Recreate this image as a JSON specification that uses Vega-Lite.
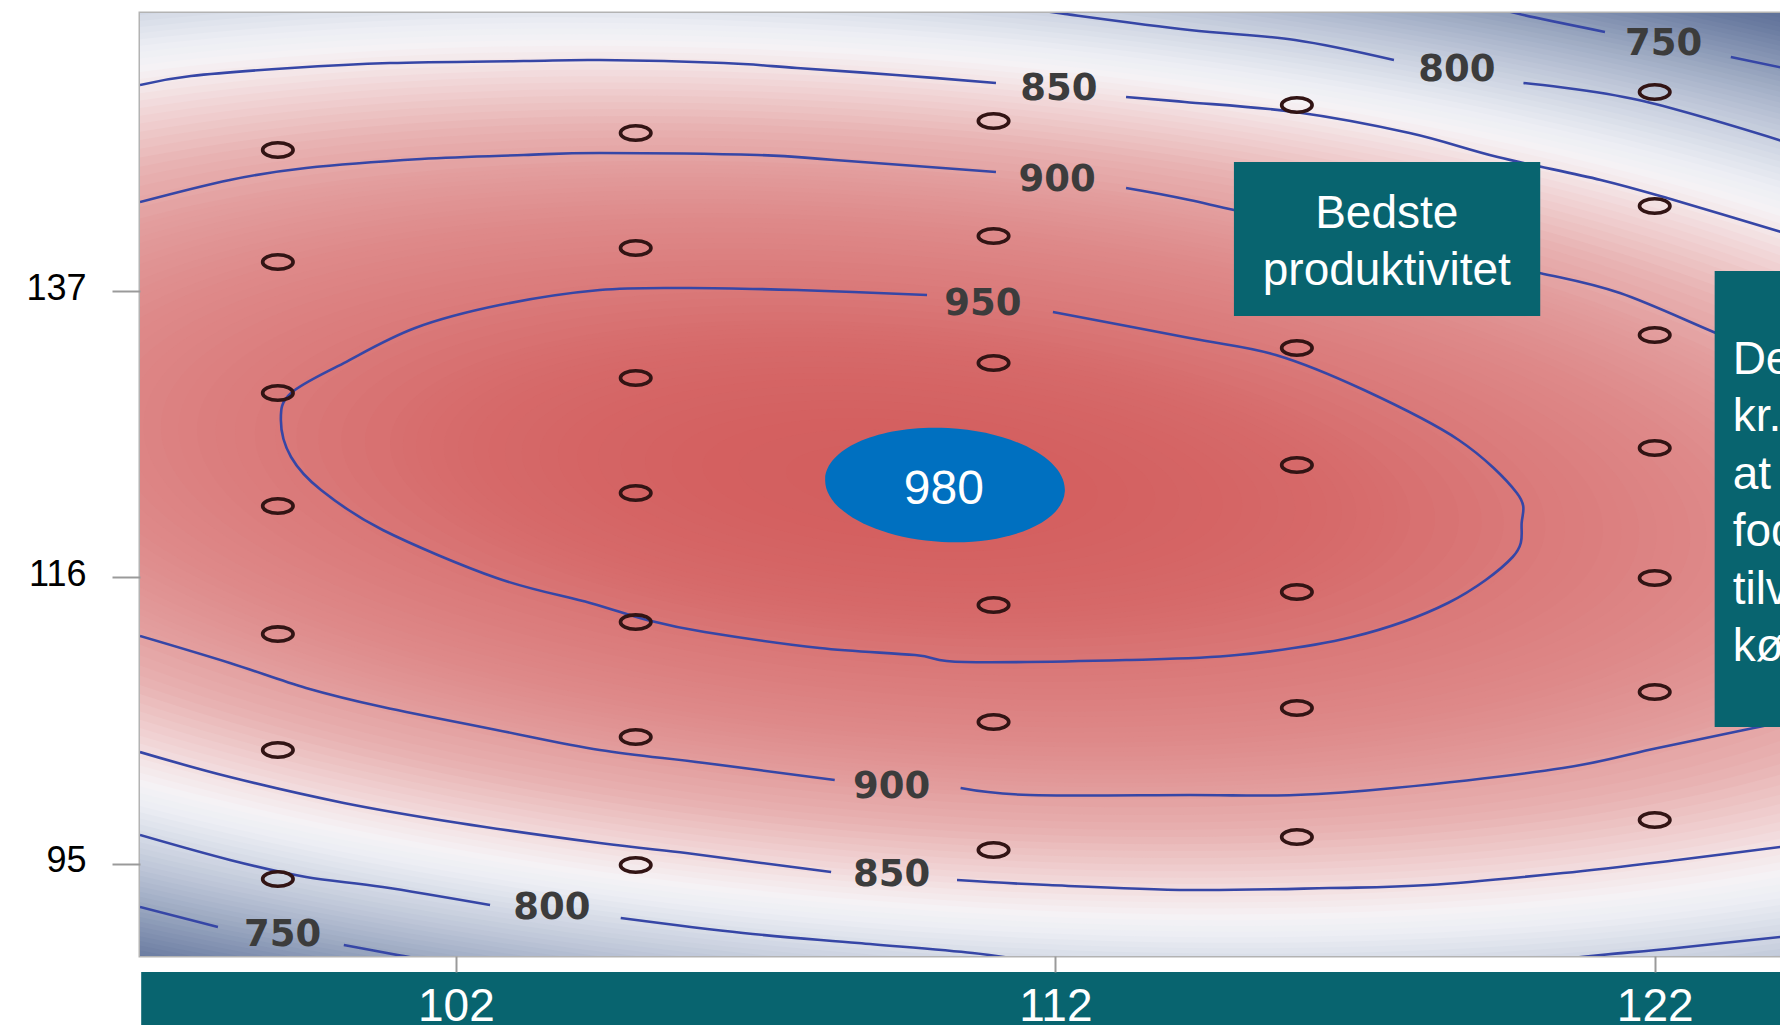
{
  "$schema": "https://vega.github.io/schema/vega-lite/v6.json",
  "width": 1640,
  "height": 943,
  "autosize": {"type": "none"},
  "padding": {"left": 140, "top": 13, "right": 0, "bottom": 69},
  "background": "#ffffff",
  "config": {"view": {"stroke": "#b3b3b3", "strokeWidth": 3}},
  "datasets": {
    "levels": [{"v":680,"x":109.41,"y":123.14},{"v":684,"x":109.41,"y":123.14},{"v":688,"x":109.41,"y":123.14},{"v":692,"x":109.41,"y":123.14},{"v":696,"x":109.41,"y":123.14},{"v":700,"x":109.41,"y":123.14},{"v":704,"x":109.41,"y":123.14},{"v":708,"x":109.41,"y":123.14},{"v":712,"x":109.41,"y":123.14},{"v":716,"x":109.41,"y":123.14},{"v":720,"x":109.41,"y":123.14},{"v":724,"x":109.41,"y":123.14},{"v":728,"x":109.41,"y":123.14},{"v":732,"x":109.41,"y":123.14},{"v":736,"x":109.41,"y":123.14},{"v":740,"x":109.41,"y":123.14},{"v":744,"x":109.41,"y":123.14},{"v":748,"x":109.41,"y":123.14},{"v":752,"x":109.41,"y":123.14},{"v":756,"x":109.41,"y":123.14},{"v":760,"x":109.41,"y":123.14},{"v":764,"x":109.41,"y":123.14},{"v":768,"x":109.41,"y":123.14},{"v":772,"x":109.41,"y":123.14},{"v":776,"x":109.41,"y":123.14},{"v":780,"x":109.41,"y":123.14},{"v":784,"x":109.41,"y":123.14},{"v":788,"x":109.41,"y":123.14},{"v":792,"x":109.41,"y":123.14},{"v":796,"x":109.41,"y":123.14},{"v":800,"x":109.41,"y":123.14},{"v":804,"x":109.41,"y":123.14},{"v":808,"x":109.41,"y":123.14},{"v":812,"x":109.41,"y":123.14},{"v":816,"x":109.41,"y":123.14},{"v":820,"x":109.41,"y":123.14},{"v":824,"x":109.41,"y":123.14},{"v":828,"x":109.41,"y":123.14},{"v":832,"x":109.41,"y":123.14},{"v":836,"x":109.41,"y":123.14},{"v":840,"x":109.41,"y":123.14},{"v":844,"x":109.41,"y":123.14},{"v":848,"x":109.41,"y":123.14},{"v":852,"x":109.41,"y":123.14},{"v":856,"x":109.41,"y":123.14},{"v":860,"x":109.41,"y":123.14},{"v":864,"x":109.41,"y":123.14},{"v":868,"x":109.41,"y":123.14},{"v":872,"x":109.41,"y":123.14},{"v":876,"x":109.41,"y":123.14},{"v":880,"x":109.41,"y":123.14},{"v":884,"x":109.41,"y":123.14},{"v":888,"x":109.41,"y":123.14},{"v":892,"x":109.41,"y":123.14},{"v":896,"x":109.41,"y":123.14},{"v":900,"x":109.41,"y":123.14},{"v":902,"x":109.41,"y":123.14},{"v":904,"x":109.41,"y":123.14},{"v":906,"x":109.41,"y":123.14},{"v":908,"x":109.41,"y":123.14},{"v":910,"x":109.41,"y":123.14},{"v":912,"x":109.41,"y":123.14},{"v":914,"x":109.41,"y":123.14},{"v":916,"x":109.41,"y":123.14},{"v":918,"x":109.41,"y":123.14},{"v":920,"x":109.41,"y":123.14},{"v":922,"x":109.41,"y":123.14},{"v":924,"x":109.41,"y":123.14},{"v":926,"x":109.41,"y":123.14},{"v":928,"x":109.41,"y":123.14},{"v":930,"x":109.41,"y":123.14},{"v":932,"x":109.41,"y":123.14},{"v":934,"x":109.41,"y":123.14},{"v":936,"x":109.41,"y":123.14},{"v":938,"x":109.41,"y":123.14},{"v":940,"x":109.41,"y":123.14},{"v":942,"x":109.41,"y":123.14},{"v":944,"x":109.41,"y":123.14},{"v":946,"x":109.41,"y":123.14},{"v":948,"x":109.41,"y":123.14},{"v":950,"x":109.41,"y":123.14},{"v":952,"x":109.41,"y":123.14},{"v":954,"x":109.41,"y":123.14},{"v":956,"x":109.41,"y":123.14},{"v":958,"x":109.41,"y":123.14},{"v":960,"x":109.41,"y":123.14},{"v":961,"x":109.41,"y":123.14},{"v":962,"x":109.41,"y":123.14},{"v":963,"x":109.41,"y":123.14},{"v":964,"x":109.41,"y":123.14},{"v":965,"x":109.41,"y":123.14},{"v":966,"x":109.41,"y":123.14},{"v":967,"x":109.41,"y":123.14},{"v":968,"x":109.41,"y":123.14},{"v":969,"x":109.41,"y":123.14},{"v":970,"x":109.41,"y":123.14},{"v":971,"x":109.41,"y":123.14},{"v":972,"x":109.41,"y":123.14},{"v":973,"x":109.41,"y":123.14},{"v":974,"x":109.41,"y":123.14},{"v":975,"x":109.41,"y":123.14},{"v":976,"x":109.41,"y":123.14},{"v":977,"x":109.41,"y":123.14},{"v":978,"x":109.41,"y":123.14},{"v":979,"x":109.41,"y":123.14}],
    "contours": [
      {"id":"t850a","o":1,"x":96.73,"y":152.10},{"id":"t850a","o":2,"x":97.58,"y":152.76},{"id":"t850a","o":3,"x":99.25,"y":153.35},{"id":"t850a","o":4,"x":100.90,"y":153.71},{"id":"t850a","o":5,"x":103.13,"y":153.86},{"id":"t850a","o":6,"x":104.40,"y":153.93},{"id":"t850a","o":7,"x":106.47,"y":153.71},{"id":"t850a","o":8,"x":107.69,"y":153.35},{"id":"t850a","o":9,"x":109.34,"y":152.84},{"id":"t850a","o":10,"x":111.01,"y":152.25},
      {"id":"t850b","o":1,"x":113.18,"y":151.22},{"id":"t850b","o":2,"x":114.16,"y":150.86},{"id":"t850b","o":3,"x":116.00,"y":150.12},{"id":"t850b","o":4,"x":117.91,"y":148.58},{"id":"t850b","o":5,"x":119.38,"y":146.82},{"id":"t850b","o":6,"x":121.10,"y":145.14},{"id":"t850b","o":7,"x":122.32,"y":143.67},{"id":"t850b","o":8,"x":124.20,"y":141.20},
      {"id":"t800a","o":1,"x":111.74,"y":157.60},{"id":"t800a","o":2,"x":112.16,"y":157.31},{"id":"t800a","o":3,"x":114.24,"y":156.13},{"id":"t800a","o":4,"x":116.00,"y":155.40},{"id":"t800a","o":5,"x":117.65,"y":153.93},
      {"id":"t800b","o":1,"x":119.81,"y":152.25},{"id":"t800b","o":2,"x":121.73,"y":151.00},{"id":"t800b","o":3,"x":124.20,"y":147.90},
      {"id":"t750a","o":1,"x":119.41,"y":157.75},{"id":"t750a","o":2,"x":119.81,"y":157.23},{"id":"t750a","o":3,"x":121.17,"y":155.99},
      {"id":"t750b","o":1,"x":123.27,"y":154.15},{"id":"t750b","o":2,"x":124.20,"y":153.30},
      {"id":"t900a","o":1,"x":96.73,"y":143.52},{"id":"t900a","o":2,"x":98.23,"y":145.14},{"id":"t900a","o":3,"x":99.50,"y":146.02},{"id":"t900a","o":4,"x":101.42,"y":146.68},{"id":"t900a","o":5,"x":103.13,"y":146.97},{"id":"t900a","o":6,"x":104.40,"y":147.12},{"id":"t900a","o":7,"x":107.04,"y":146.97},{"id":"t900a","o":8,"x":108.32,"y":146.60},{"id":"t900a","o":9,"x":111.01,"y":145.72},
      {"id":"t900b","o":1,"x":113.18,"y":144.55},{"id":"t900b","o":2,"x":114.24,"y":143.67},{"id":"t900b","o":3,"x":116.08,"y":141.84},{"id":"t900b","o":4,"x":117.75,"y":140.37},{"id":"t900b","o":5,"x":120.08,"y":138.32},{"id":"t900b","o":6,"x":121.42,"y":136.85},{"id":"t900b","o":7,"x":123.02,"y":133.92},{"id":"t900b","o":8,"x":124.20,"y":131.80},
      {"id":"c950","o":1,"x":111.96,"y":135.46},{"id":"c950","o":2,"x":114.24,"y":133.55},{"id":"c950","o":3,"x":115.68,"y":132.31},{"id":"c950","o":4,"x":117.15,"y":129.74},{"id":"c950","o":5,"x":118.73,"y":126.08},{"id":"c950","o":6,"x":119.70,"y":122.19},{"id":"c950","o":7,"x":119.78,"y":119.99},{"id":"c950","o":8,"x":119.63,"y":117.50},{"id":"c950","o":9,"x":118.55,"y":114.13},{"id":"c950","o":10,"x":116.95,"y":111.63},{"id":"c950","o":11,"x":115.03,"y":110.31},{"id":"c950","o":12,"x":113.18,"y":109.95},{"id":"c950","o":13,"x":110.49,"y":109.80},{"id":"c950","o":14,"x":109.66,"y":110.31},{"id":"c950","o":15,"x":108.07,"y":110.83},{"id":"c950","o":16,"x":106.15,"y":112.00},{"id":"c950","o":17,"x":105.19,"y":112.88},{"id":"c950","o":18,"x":104.24,"y":114.13},{"id":"c950","o":19,"x":102.68,"y":115.96},{"id":"c950","o":20,"x":100.78,"y":119.48},{"id":"c950","o":21,"x":99.75,"y":122.41},{"id":"c950","o":22,"x":99.25,"y":124.83},{"id":"c950","o":23,"x":99.08,"y":127.54},{"id":"c950","o":24,"x":99.25,"y":129.52},{"id":"c950","o":25,"x":100.13,"y":131.72},{"id":"c950","o":26,"x":101.32,"y":134.29},{"id":"c950","o":27,"x":102.73,"y":135.97},{"id":"c950","o":28,"x":104.40,"y":137.07},{"id":"c950","o":29,"x":105.90,"y":137.22},{"id":"c950","o":30,"x":107.69,"y":137.07},{"id":"c950","o":31,"x":109.86,"y":136.71},
      {"id":"b900a","o":1,"x":96.73,"y":111.71},{"id":"b900a","o":2,"x":98.23,"y":109.73},{"id":"b900a","o":3,"x":99.50,"y":107.90},{"id":"b900a","o":4,"x":100.78,"y":106.50},{"id":"b900a","o":5,"x":102.68,"y":104.82},{"id":"b900a","o":6,"x":104.40,"y":103.35},{"id":"b900a","o":7,"x":106.15,"y":102.40},{"id":"b900a","o":8,"x":108.32,"y":101.15},
      {"id":"b900b","o":1,"x":110.42,"y":100.56},{"id":"b900b","o":2,"x":111.57,"y":100.05},{"id":"b900b","o":3,"x":114.24,"y":100.05},{"id":"b900b","o":4,"x":116.00,"y":100.05},{"id":"b900b","o":5,"x":117.65,"y":100.56},{"id":"b900b","o":6,"x":120.47,"y":102.03},{"id":"b900b","o":7,"x":122.05,"y":103.50},{"id":"b900b","o":8,"x":123.65,"y":104.96},{"id":"b900b","o":9,"x":124.20,"y":105.50},
      {"id":"b850a","o":1,"x":96.73,"y":103.20},{"id":"b850a","o":2,"x":98.23,"y":101.37},{"id":"b850a","o":3,"x":100.13,"y":99.47},{"id":"b850a","o":4,"x":102.05,"y":98.00},{"id":"b850a","o":5,"x":104.40,"y":96.53},{"id":"b850a","o":6,"x":105.84,"y":95.80},{"id":"b850a","o":7,"x":107.10,"y":95.07},{"id":"b850a","o":8,"x":108.26,"y":94.41},
      {"id":"b850b","o":1,"x":110.36,"y":93.82},{"id":"b850b","o":2,"x":111.89,"y":93.45},{"id":"b850b","o":3,"x":114.24,"y":93.09},{"id":"b850b","o":4,"x":116.56,"y":93.23},{"id":"b850b","o":5,"x":118.23,"y":93.45},{"id":"b850b","o":6,"x":120.47,"y":94.33},{"id":"b850b","o":7,"x":122.38,"y":95.29},{"id":"b850b","o":8,"x":124.20,"y":96.30},
      {"id":"b800a","o":1,"x":96.73,"y":97.12},{"id":"b800a","o":2,"x":98.23,"y":95.29},{"id":"b800a","o":3,"x":99.50,"y":94.04},{"id":"b800a","o":4,"x":100.78,"y":93.31},{"id":"b800a","o":5,"x":102.57,"y":91.99},
      {"id":"b800b","o":1,"x":104.75,"y":91.04},{"id":"b800b","o":2,"x":106.79,"y":89.94},{"id":"b800b","o":3,"x":108.71,"y":89.20},{"id":"b800b","o":4,"x":110.62,"y":88.47},{"id":"b800b","o":5,"x":111.50,"y":87.90},
      {"id":"b800r","o":1,"x":120.20,"y":87.90},{"id":"b800r","o":2,"x":121.10,"y":88.32},{"id":"b800r","o":3,"x":122.37,"y":88.84},{"id":"b800r","o":4,"x":124.20,"y":89.70},
      {"id":"b750a","o":1,"x":96.73,"y":91.84},{"id":"b750a","o":2,"x":98.03,"y":90.38},
      {"id":"b750b","o":1,"x":100.13,"y":89.06},{"id":"b750b","o":2,"x":101.03,"y":88.32},{"id":"b750b","o":3,"x":101.60,"y":87.90}
    ],
    "clabels": [
      {"t":"850","x":112.06,"y":151.79},{"t":"900","x":112.03,"y":145.11},{"t":"950","x":110.79,"y":136.02},{"t":"800","x":118.70,"y":153.18},{"t":"750","x":122.15,"y":155.08},{"t":"900","x":109.27,"y":100.61},{"t":"850","x":109.27,"y":94.16},{"t":"800","x":103.60,"y":91.74},{"t":"750","x":99.11,"y":89.77}
    ],
    "pts": [
      {"x":99.03,"y":147.34},{"x":99.03,"y":139.13},{"x":99.03,"y":129.52},{"x":99.03,"y":121.24},{"x":99.03,"y":111.85},{"x":99.03,"y":103.35},{"x":99.03,"y":93.89},
      {"x":105.0,"y":148.58},{"x":105.0,"y":140.15},{"x":105.0,"y":130.62},{"x":105.0,"y":122.19},{"x":105.0,"y":112.73},{"x":105.0,"y":104.30},{"x":105.0,"y":94.92},
      {"x":110.97,"y":149.46},{"x":110.97,"y":141.03},{"x":110.97,"y":131.72},{"x":110.97,"y":113.98},{"x":110.97,"y":105.40},{"x":110.97,"y":96.02},
      {"x":116.03,"y":150.64},{"x":116.03,"y":132.82},{"x":116.03,"y":124.24},{"x":116.03,"y":114.93},{"x":116.03,"y":106.43},{"x":116.03,"y":96.97},
      {"x":122.0,"y":151.59},{"x":122.0,"y":143.23},{"x":122.0,"y":133.77},{"x":122.0,"y":125.49},{"x":122.0,"y":115.96},{"x":122.0,"y":107.60},{"x":122.0,"y":98.22}
    ]
  },
  "encoding": {
    "x": {"field": "x", "type": "quantitative",
      "scale": {"domain": [96.73, 124.09], "nice": false, "zero": false},
      "axis": {"values": [102, 112, 122], "title": null, "grid": false, "domain": false, "ticks": true, "tickColor": "#9a9a9a", "tickWidth": 2, "tickSize": 16, "labelColor": "#ffffff", "labelFont": "Liberation Sans", "labelFontSize": 46, "labelPadding": 12, "labelBaseline": "top", "labelFlush": false, "labelOverlap": false, "zindex": 2}},
    "y": {"field": "y", "type": "quantitative",
      "scale": {"domain": [88.25, 157.38], "nice": false, "zero": false},
      "axis": {"values": [95, 116, 137], "title": null, "grid": false, "domain": false, "ticks": true, "tickColor": "#9a9a9a", "tickWidth": 2, "tickSize": 28, "labelColor": "#000000", "labelFont": "Liberation Sans", "labelFontSize": 36, "labelPadding": 26, "labelOffset": -3, "labelFlush": false, "labelOverlap": false, "zindex": 2}}
  },
  "layer": [
    {
      "data": {"name": "levels"},
      "mark": {"type": "point", "shape": "M1,0C1,0.1673,0.5523,0.303,0,0.303C-0.5523,0.303,-1,0.1673,-1,0C-1,-0.1673,-0.5523,-0.303,0,-0.303C0.5523,-0.303,1,-0.1673,1,0Z", "filled": true, "opacity": 1, "angle": 4.5, "clip": true},
      "encoding": {
        "size": {"field": "v", "type": "quantitative", "scale": {"type": "linear", "domain": [680, 980], "range": [15697800, 0], "zero": false}, "legend": null},
        "color": {"field": "v", "type": "quantitative", "legend": null,
          "scale": {"domain": [680, 700, 725, 750, 775, 800, 815, 828, 840, 852, 865, 880, 900, 925, 950, 965, 980],
            "range": ["#5b6d96", "#6a7ba0", "#8594b3", "#a3afc6", "#c0c8d9", "#dbe0ea", "#eceef4", "#f5f2f5", "#f4e6e8", "#f1d6d7", "#edc6c6", "#e8b2b2", "#e39f9f", "#de8a8a", "#da7979", "#d66a6a", "#d35e5e"],
            "interpolate": "rgb"}}
      }
    },
    {
      "data": {"name": "contours"},
      "mark": {"type": "line", "color": "#3646a6", "strokeWidth": 2.6, "clip": true, "interpolate": "cardinal"},
      "encoding": {
        "detail": {"field": "id", "type": "nominal"},
        "order": {"field": "o", "type": "quantitative"}
      }
    },
    {
      "data": {"name": "clabels"},
      "mark": {"type": "text", "font": "DejaVu Sans", "fontSize": 37, "fontWeight": 600, "fill": "#3c3c3c", "align": "center", "baseline": "middle"},
      "encoding": {"text": {"field": "t", "type": "nominal"}}
    },
    {
      "data": {"name": "pts"},
      "mark": {"type": "point", "shape": "M1,0C1,0.2623,0.5523,0.475,0,0.475C-0.5523,0.475,-1,0.2623,-1,0C-1,-0.2623,-0.5523,-0.475,0,-0.475C0.5523,-0.475,1,-0.2623,1,0Z", "filled": false, "size": 930, "stroke": "#321414", "strokeWidth": 3.6, "opacity": 1, "clip": true}
    },
    {
      "data": {"values": [{"x": 110.16, "y": 122.78}]},
      "mark": {"type": "point", "shape": "M1,0C1,0.2623,0.5523,0.475,0,0.475C-0.5523,0.475,-1,0.2623,-1,0C-1,-0.2623,-0.5523,-0.475,0,-0.475C0.5523,-0.475,1,-0.2623,1,0Z", "filled": true, "fill": "#0070c0", "strokeWidth": 0, "size": 57600, "angle": 3, "opacity": 1}
    },
    {
      "data": {"values": [{"x": 110.14, "y": 122.43, "t": "980"}]},
      "mark": {"type": "text", "font": "Liberation Sans", "fontSize": 48, "fill": "#ffffff", "align": "center", "baseline": "middle"},
      "encoding": {"text": {"field": "t", "type": "nominal"}}
    },
    {
      "data": {"values": [{"x": 114.98, "x2": 120.09, "y": 146.46, "y2": 135.17}]},
      "mark": {"type": "rect", "color": "#08646f", "opacity": 1},
      "encoding": {"x2": {"field": "x2"}, "y2": {"field": "y2"}}
    },
    {
      "data": {"values": [{"x": 117.53, "y": 141.62, "t": "Bedste\nproduktivitet"}]},
      "mark": {"type": "text", "font": "Liberation Sans", "fontSize": 46, "fill": "#ffffff", "align": "center", "baseline": "alphabetic", "lineBreak": "\n", "lineHeight": 57},
      "encoding": {"text": {"field": "t", "type": "nominal"}}
    },
    {
      "data": {"values": [{"x": 123.0, "x2": 126.0, "y": 138.47, "y2": 105.04}]},
      "mark": {"type": "rect", "color": "#08646f", "opacity": 1, "clip": true},
      "encoding": {"x2": {"field": "x2"}, "y2": {"field": "y2"}}
    },
    {
      "data": {"values": [{"x": 123.30, "y": 130.92, "t": "Det koster\nkr. mere\nat give\nfoder til\ntilvækst\nkøbt"}]},
      "mark": {"type": "text", "font": "Liberation Sans", "fontSize": 46, "fill": "#ffffff", "align": "left", "baseline": "alphabetic", "lineBreak": "\n", "lineHeight": 57.5, "clip": true},
      "encoding": {"text": {"field": "t", "type": "nominal"}}
    },
    {
      "data": {"values": [{"x": 96.75, "x2": 126.0, "y": 87.08, "y2": 82.5}]},
      "mark": {"type": "rect", "color": "#08646f", "opacity": 1, "clip": false},
      "encoding": {"x2": {"field": "x2"}, "y2": {"field": "y2"}}
    }
  ]
}
